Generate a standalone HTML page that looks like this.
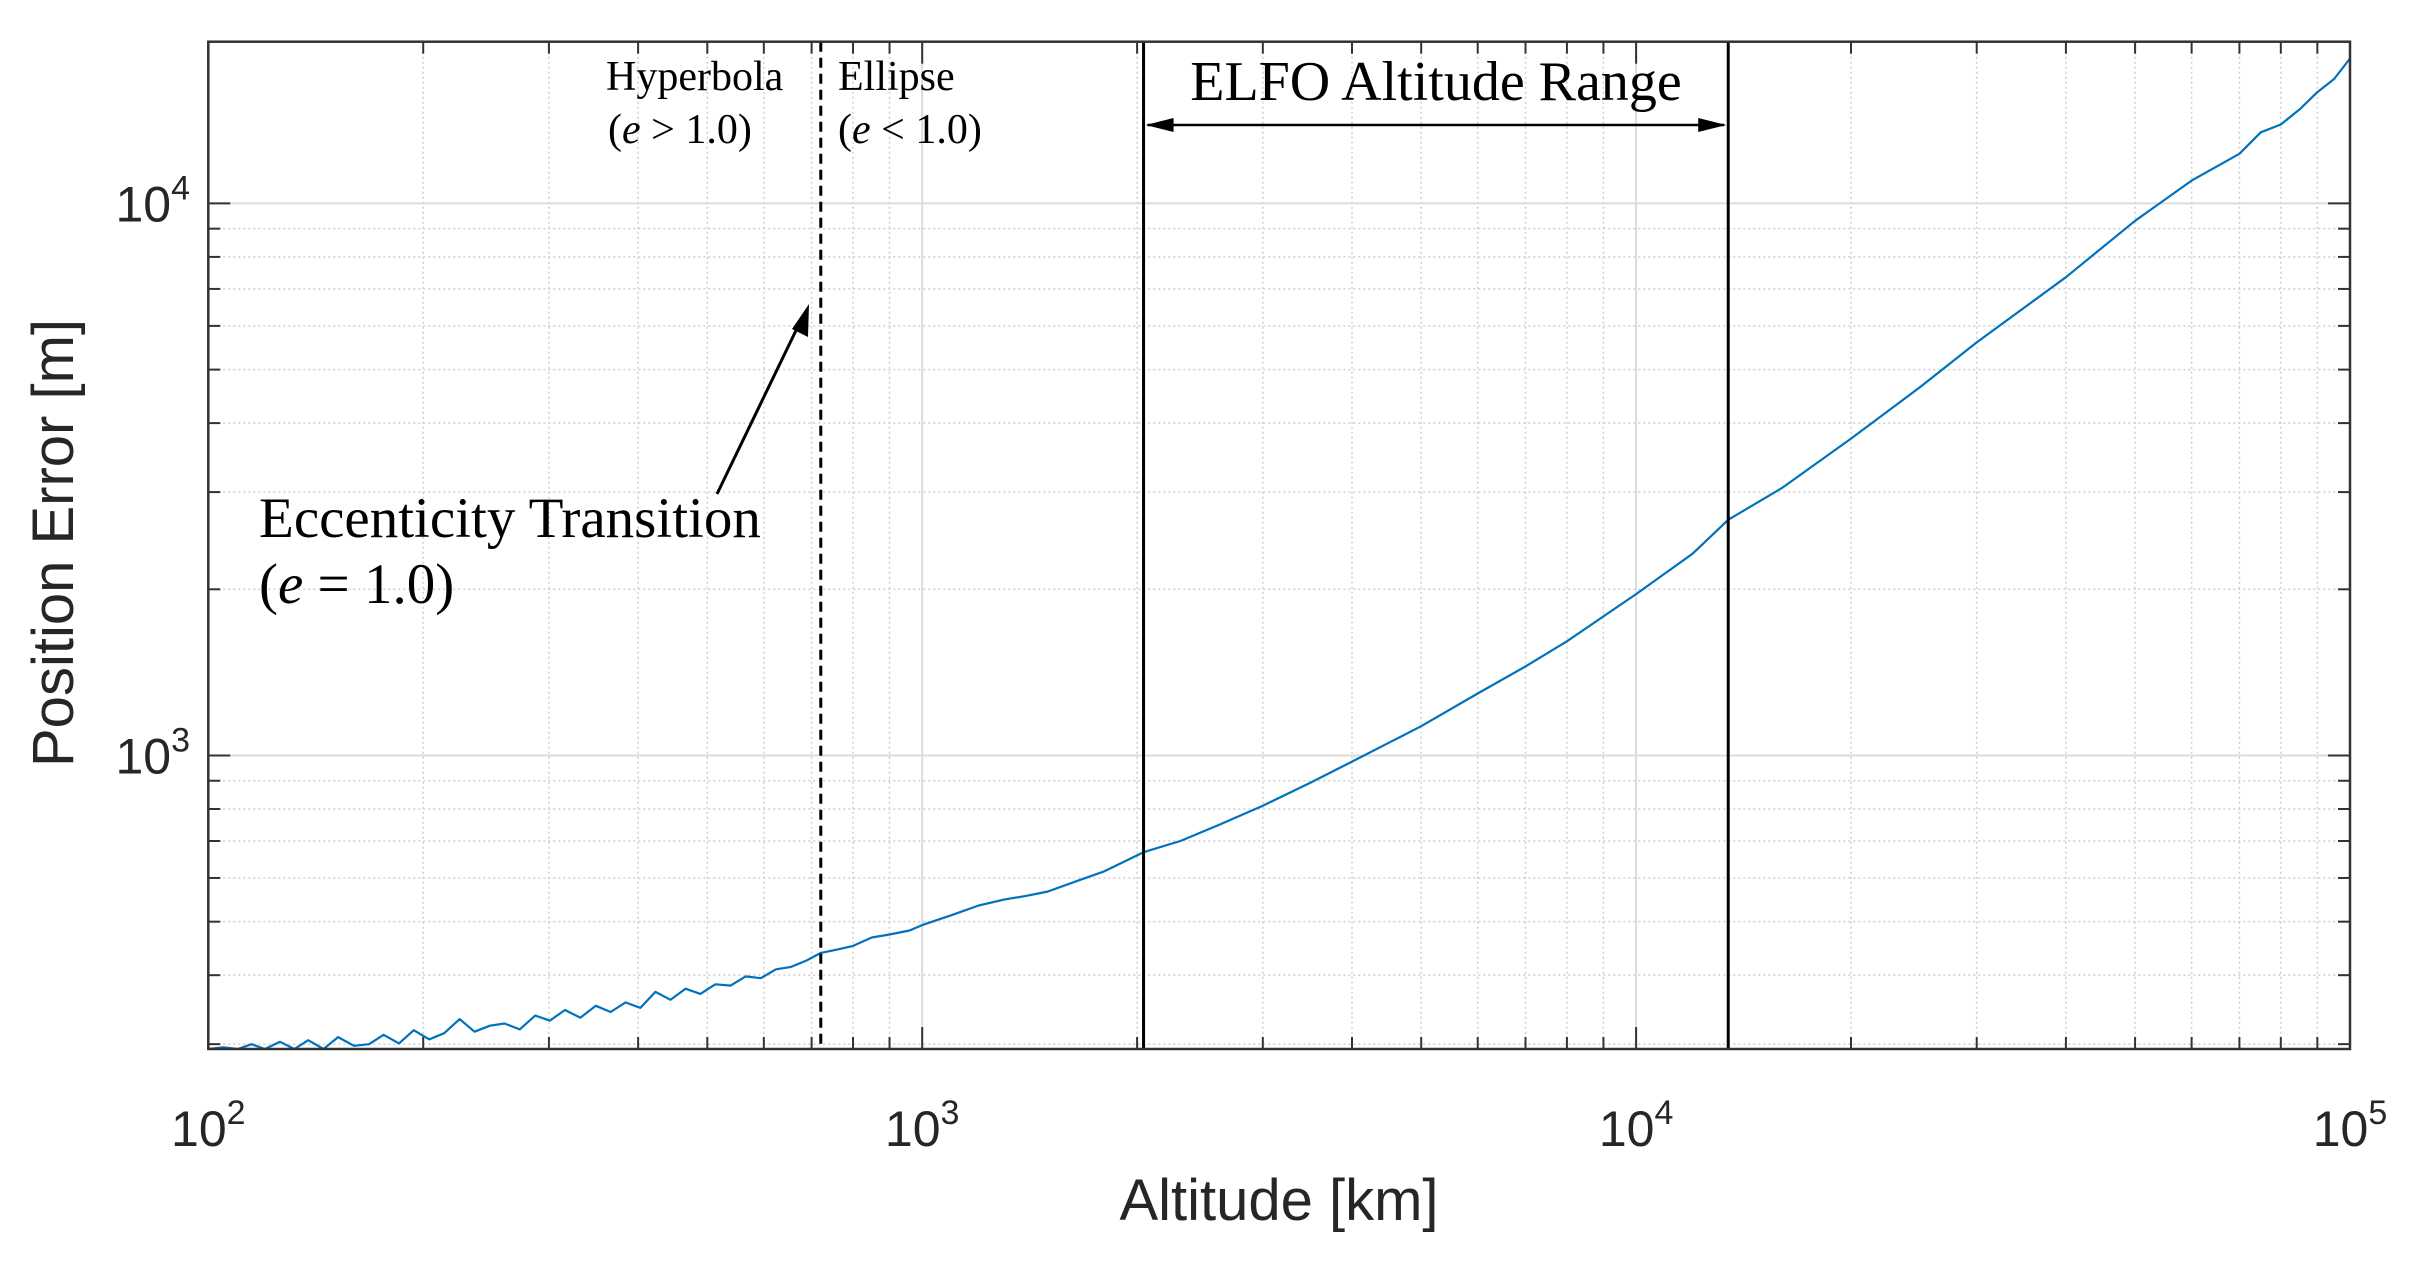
<!DOCTYPE html>
<html><head><meta charset="utf-8"><style>
html,body{margin:0;padding:0;background:#fff;}
svg{display:block;}
</style></head><body>
<svg id="chart" width="2419" height="1262" viewBox="0 0 2419 1262" xmlns="http://www.w3.org/2000/svg">
<rect width="2419" height="1262" fill="#fff"/>
<g id="grid"></g>
<g id="series"></g>
<g id="annot"></g>
<g id="axes"></g>
</svg>
<script>
const altitudes=[100,105,110,115,120,126,132,138,145,152,160,168,176,185,194,204,214,225,236,248,260,273,287,301,316,332,349,366,384,403,423,444,466,489,513,539,566,594,624,655,688,721,760,800,850,900,960,1000,1100,1200,1300,1400,1500,1650,1800,2042,2300,2600,3000,3500,4000,5000,6000,7000,8000,10000,12000,13460,16000,20000,25000,30000,40000,50000,60000,70000,75000,80000,85000,90000,95000,100000];
const errors=[282,296,278,300,285,303,288,305,292,309,298,300,312,301,318,306,314,333,316,324,327,319,338,331,346,335,352,343,357,349,373,361,378,370,385,383,398,395,410,414,425,439,445,452,468,474,482,493,514,535,548,557,567,593,617,668,700,748,811,893,975,1130,1295,1450,1610,1960,2320,2673,3050,3750,4650,5600,7350,9300,11000,12300,13450,13900,14800,15900,16800,18300];
const xTickLabels=["2","3","4","5"];
const yTickLabels=["3","4"];
const transitionAlt=721, elfoLow=2042, elfoHigh=13460;

const NS="http://www.w3.org/2000/svg";
const L=208.3,R=2350,T=41.7,B=1049;
const xMin=2,xMax=5,yMin=Math.log10(294),yMax=Math.log10(19630);
const X=v=>L+(Math.log10(v)-xMin)/(xMax-xMin)*(R-L);
const Y=v=>B-(Math.log10(v)-yMin)/(yMax-yMin)*(B-T);
function mk(tag,attrs,parent){const e=document.createElementNS(NS,tag);for(const k in attrs)e.setAttribute(k,attrs[k]);parent.appendChild(e);return e;}
const grid=document.getElementById('grid'),axes=document.getElementById('axes'),series=document.getElementById('series'),annot=document.getElementById('annot');

for(let d=2;d<5;d++){for(let m=1;m<10;m++){const v=m*Math.pow(10,d);const x=X(v);
 const g=mk('line',{x1:x,x2:x,y1:T,y2:B,stroke:m==1?'#dcdcdc':'#cfcfcf','stroke-width':m==1?2:1.5,'stroke-dasharray':m==1?'':'2,3'},grid);
 
 
 const len=m==1?22:12;
 const t1=mk('line',{x1:x,x2:x,y1:B,y2:B-len,stroke:'#333','stroke-width':2},axes);
 
 
 const t2=mk('line',{x1:x,x2:x,y1:T,y2:T+len,stroke:'#333','stroke-width':2},axes);
 
 
}}
for(let d=2;d<5;d++){for(let m=1;m<10;m++){const v=m*Math.pow(10,d);if(v<294||v>19630)continue;const y=Y(v);
 const g=mk('line',{x1:L,x2:R,y1:y,y2:y,stroke:m==1?'#dcdcdc':'#cfcfcf','stroke-width':m==1?2:1.5,'stroke-dasharray':m==1?'':'2,3'},grid);
 
 
 const len=m==1?22:12;
 const t1=mk('line',{x1:L,x2:L+len,y1:y,y2:y,stroke:'#333','stroke-width':2},axes);
 
 
 const t2=mk('line',{x1:R,x2:R-len,y1:y,y2:y,stroke:'#333','stroke-width':2},axes);
 
 
}}
const fr=mk('rect',{x:L,y:T,width:R-L,height:B-T,fill:'none',stroke:'#333','stroke-width':2.5},axes);



xTickLabels.forEach(p=>{const x=X(Math.pow(10,+p));
 const t=mk('text',{x:x,y:1146,'text-anchor':'middle','font-family':'Liberation Sans, sans-serif','font-size':50,fill:'#262626'},axes);
 
 
 t.innerHTML='10<tspan dy="-22" font-size="34">'+p+'</tspan>';
});
yTickLabels.forEach(p=>{const y=Y(Math.pow(10,+p));
 const t=mk('text',{x:190,y:y+18,'text-anchor':'end','font-family':'Liberation Sans, sans-serif','font-size':50,fill:'#262626'},axes);
 
 
 t.innerHTML='10<tspan dy="-22" font-size="34">'+p+'</tspan>';
});
const xl=mk('text',{x:1279,y:1220,'text-anchor':'middle','font-family':'Liberation Sans, sans-serif','font-size':58,fill:'#262626'},axes);


xl.textContent='Altitude [km]';
const yl=mk('text',{x:0,y:0,transform:'translate(73,543) rotate(-90)','text-anchor':'middle','font-family':'Liberation Sans, sans-serif','font-size':58,fill:'#262626'},axes);


yl.textContent='Position Error [m]';

let d='';altitudes.forEach((a,i)=>{d+=(i?'L':'M')+X(a).toFixed(1)+','+Math.min(B,Y(errors[i])).toFixed(1);});
const ln=mk('path',{d:d,fill:'none',stroke:'#0072bd','stroke-width':2.2,'stroke-linejoin':'round'},series);



const dl=mk('line',{x1:X(transitionAlt),x2:X(transitionAlt),y1:T,y2:B,stroke:'#000','stroke-width':3,'stroke-dasharray':'10,6'},annot);


[elfoLow,elfoHigh].forEach(v=>{const l=mk('line',{x1:X(v),x2:X(v),y1:T,y2:B,stroke:'#000','stroke-width':3},annot);
 
 });

const x1=X(elfoLow),x2=X(elfoHigh);
const ar=mk('line',{x1:x1+4,x2:x2-4,y1:125,y2:125,stroke:'#000','stroke-width':2.5},annot);


mk('path',{d:`M${x1+2},125 l28,-7 l0,14 z`,fill:'#000'},annot);
mk('path',{d:`M${x2-2},125 l-28,-7 l0,14 z`,fill:'#000'},annot);

const ta=mk('line',{x1:717,y1:494,x2:802,y2:318,stroke:'#000','stroke-width':3},annot);


mk('path',{d:'M809,304 L808,337 L792,329 z',fill:'#000'},annot);

function txt(x,y,s,size,name,anchor){const t=mk('text',{x:x,y:y,'font-family':'Liberation Serif, serif','font-size':size,fill:'#000','text-anchor':anchor||'start'},annot);
 
 
 t.innerHTML=s;return t;}
txt(606,90,'Hyperbola',42,'hyperbola-label');
txt(608,143,'(<tspan font-style="italic">e</tspan> &gt; 1.0)',42,'hyperbola-condition');
txt(838,90,'Ellipse',42,'ellipse-label');
txt(838,143,'(<tspan font-style="italic">e</tspan> &lt; 1.0)',42,'ellipse-condition');
txt(1436,100,'ELFO Altitude Range',56,'elfo-range-label','middle');
txt(259,537,'Eccenticity Transition',57,'transition-label');
txt(259,603,'(<tspan font-style="italic">e</tspan> = 1.0)',57,'transition-condition');
</script>
</body></html>
